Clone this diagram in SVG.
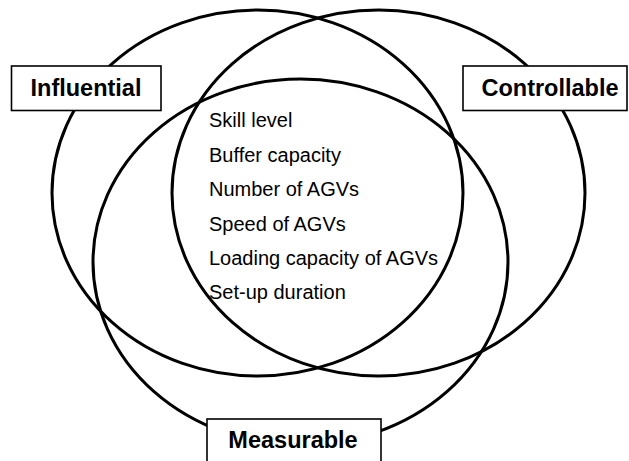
<svg xmlns="http://www.w3.org/2000/svg" width="629" height="461" viewBox="0 0 629 461">
  <style>
    .set { fill: none; stroke: #000; stroke-width: 3; }
    .box { fill: #fff; stroke: #000; stroke-width: 1.6; }
    .label { font-family: "Liberation Sans", Arial, sans-serif; font-weight: bold; font-size: 23.5px; fill: #000; text-anchor: middle; }
    .item { font-family: "Liberation Sans", Arial, sans-serif; font-size: 20px; fill: #000; }
  </style>
  <rect width="629" height="461" fill="#fff"/>

  <!-- the three overlapping sets -->
  <g id="sets">
    <ellipse id="set-influential" class="set" cx="257.5" cy="193" rx="205.5" ry="183"/>
    <ellipse id="set-controllable" class="set" cx="378.5" cy="193" rx="206.5" ry="183"/>
    <ellipse id="set-measurable" class="set" cx="300.5" cy="262" rx="207.5" ry="183"/>
  </g>

  <!-- set labels -->
  <g id="label-influential">
    <rect class="box" x="11.5" y="66" width="149.5" height="44.5"/>
    <text class="label" x="86" y="96">Influential</text>
  </g>
  <g id="label-controllable">
    <rect class="box" x="463" y="66" width="164" height="44.5"/>
    <text class="label" x="550" y="96">Controllable</text>
  </g>
  <g id="label-measurable">
    <rect class="box" x="207" y="419" width="174" height="50"/>
    <text class="label" x="293" y="448">Measurable</text>
  </g>

  <!-- factors in the common intersection -->
  <g id="factors">
    <text class="item" x="209" y="127">Skill level</text>
    <text class="item" x="209" y="162">Buffer capacity</text>
    <text class="item" x="209" y="196">Number of AGVs</text>
    <text class="item" x="209" y="231">Speed of AGVs</text>
    <text class="item" x="209" y="265">Loading capacity of AGVs</text>
    <text class="item" x="209" y="299">Set-up duration</text>
  </g>
</svg>
